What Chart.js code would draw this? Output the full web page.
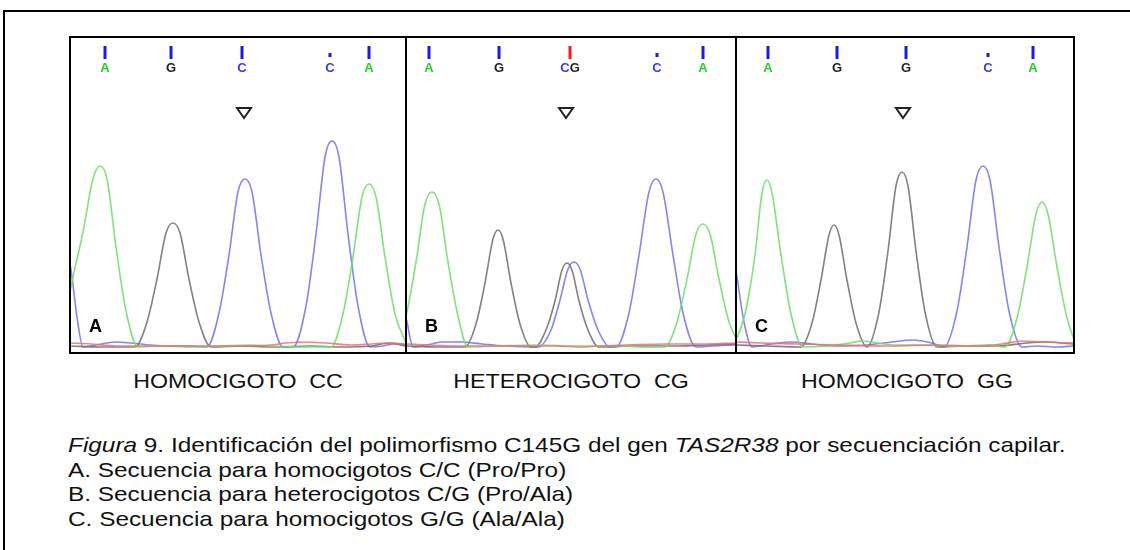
<!DOCTYPE html>
<html lang="es">
<head>
<meta charset="UTF-8">
<title>Figura 9 - TAS2R38 C145G</title>
<script src="https://cdn.jsdelivr.net/npm/chart.js"></script>
<style>
    body {
        margin: 0;
        width: 1130px;
        height: 550px;
        background: #fff;
        font-family: "Liberation Sans", Arial, sans-serif;
        position: relative;
        overflow: hidden;
    }
    .frame {
        position: absolute;
        left: 3px;
        top: 10px;
        width: 1200px;
        height: 600px;
        border-left: 2px solid #000;
        border-top: 2px solid #000;
    }
    .panel {
        position: absolute;
        top: 36px;
        height: 314px;
        border: 2px solid #000;
    }
    .panel canvas { display: block; }
    .genotype {
        position: absolute;
        top: 370px;
        font-size: 20px;
        white-space: pre;
        transform: translateX(-50%) scaleX(1.16);
        color: #111;
    }
    .caption {
        position: absolute;
        left: 68px;
        font-size: 21px;
        white-space: pre;
        color: #111;
        transform-origin: left center;
        transform: scaleX(1.16);
    }
</style>
</head>
<body>
<div class="frame"></div>

<div class="panel" id="boxA" style="left:69px;width:334px"><canvas id="chartA" width="334" height="314"></canvas></div>
<div class="panel" id="boxB" style="left:405px;width:328px"><canvas id="chartB" width="328" height="314"></canvas></div>
<div class="panel" id="boxC" style="left:735px;width:336px"><canvas id="chartC" width="336" height="314"></canvas></div>

<div class="genotype" style="left:238px">HOMOCIGOTO  CC</div>
<div class="genotype" style="left:571px">HETEROCIGOTO  CG</div>
<div class="genotype" style="left:907px">HOMOCIGOTO  GG</div>

<div class="caption" style="top:433px"><i>Figura</i> 9. Identificación del polimorfismo C145G del gen <i>TAS2R38</i> por secuenciación capilar.</div>
<div class="caption" style="top:458px">A. Secuencia para homocigotos C/C (Pro/Pro)</div>
<div class="caption" style="top:482px">B. Secuencia para heterocigotos C/G (Pro/Ala)</div>
<div class="caption" style="top:507px">C. Secuencia para homocigotos G/G (Ala/Ala)</div>

<script>
// scan position / signal (scan 0 = left edge of each panel)

// panel A - homocigoto CC
const greenA = [[-12,0],[2,70],[12,115],[22,168],[29,181],[36,168],[45,100],[55,36],[67,0],[90,1],[120,0],[150,1],[180,2],[200,1],[230,0],[260,0],[272,33],[282,90],[291,150],[298,163],[305,150],[314,90],[324,33],[336,2]];
const grayA = [[0,1],[30,0],[64,0],[76,25],[86,68],[95,114],[102,124],[109,114],[118,68],[128,25],[140,0],[170,1],[200,0],[240,1],[270,0],[300,1],[319,4],[334,2]];
const blueA = [[-10,120],[0,77],[6,30],[12,0],[25,2],[45,5],[60,4],[80,2],[100,1],[120,1],[136,0],[148,34],[158,92],[167,155],[174,168],[181,155],[190,92],[200,34],[212,0],[222,0],[235,41],[245,113],[254,190],[261,206],[268,190],[277,113],[287,41],[299,0],[312,1],[323,3],[334,1]];
const redA = [[0,4],[20,3],[45,1],[80,1],[130,1],[170,1],[200,2],[215,4],[235,5],[255,4],[280,2],[300,3],[315,4],[334,3]];

// panel B - heterocigoto CG
const greenB = [[-13,0],[-1,31],[9,85],[18,143],[25,155],[32,143],[41,85],[51,31],[61,0],[90,1],[130,2],[170,1],[210,1],[240,0],[258,0],[270,25],[280,68],[289,113],[296,123],[303,113],[312,68],[322,25],[334,0]];
const grayB = [[0,1],[30,0],[58,0],[69,23],[78,64],[86,108],[91,117],[96,108],[104,64],[113,23],[124,0],[128,0],[139,17],[148,46],[155,77],[160,84],[165,77],[172,46],[181,17],[192,0],[230,1],[270,1],[300,2],[328,3]];
const blueB = [[-8,60],[0,25],[6,0],[20,2],[35,5],[55,5],[75,3],[100,1],[131,0],[144,17],[153,47],[161,78],[167,85],[173,78],[181,47],[191,17],[203,0],[209,0],[222,34],[232,92],[242,155],[249,168],[256,155],[266,92],[276,34],[289,0],[305,1],[328,2]];
const redB = [[0,3],[20,2],[50,1],[90,1],[120,1],[150,1],[175,0],[190,1],[220,2],[260,3],[300,3],[328,4]];

// panel C - homocigoto GG
const greenC = [[-4,0],[8,33],[18,92],[25,154],[30,167],[35,154],[44,92],[54,33],[66,0],[90,1],[113,4],[125,6],[140,4],[160,2],[190,2],[220,1],[250,2],[268,0],[280,29],[290,80],[299,133],[305,145],[311,133],[320,80],[330,29],[340,0]];
const grayC = [[0,2],[30,1],[64,0],[75,24],[84,67],[92,112],[97,122],[102,112],[110,67],[119,24],[130,0],[142,35],[151,96],[159,161],[165,175],[171,161],[179,96],[188,35],[200,0],[230,1],[260,1],[290,4],[310,5],[336,3]];
const blueC = [[-10,130],[0,70],[7,25],[15,0],[35,3],[55,5],[75,3],[100,1],[130,2],[155,5],[175,7],[195,4],[207,0],[220,36],[230,100],[239,167],[246,181],[253,167],[262,100],[272,36],[285,0],[300,1],[320,0],[336,1]];
const redC = [[0,5],[25,4],[60,3],[100,2],[150,1],[200,2],[240,1],[265,3],[285,6],[305,5],[336,4]];

// base calls above each panel
const callPosA = [34, 100, 171, 259, 298];
const callPosB = [22, 92, 163, 250, 296];
const callPosC = [31, 100, 169, 251, 296];
const callsA = ['A', 'G', 'C', 'C', 'A'];
const callsB = ['A', 'G', 'CG', 'C', 'A'];
const callsC = ['A', 'G', 'G', 'C', 'A'];
const qualA = ['bar', 'bar', 'bar', 'dot', 'bar'];
const qualB = ['bar', 'bar', 'mixed', 'dot', 'bar'];
const qualC = ['bar', 'bar', 'bar', 'dot', 'bar'];
const snpPos = { A: 173, B: 159, C: 166 };

const baseColor = { A: '#22d322', G: '#222222', C: '#3a3ae8' };

const callsPlugin = {
    id: 'calls',
    afterDatasetsDraw(chart, args, opts) {
        const ctx = chart.ctx;
        const x = chart.scales.x;
        ctx.save();
        opts.pos.forEach((p, i) => {
            const px = Math.round(x.getPixelForValue(p));
            // quality mark
            if (opts.qual[i] === 'dot') {
                ctx.fillStyle = '#1a1ae0';
                ctx.fillRect(px - 1.5, 15, 3, 4);
            } else {
                ctx.fillStyle = opts.qual[i] === 'mixed' ? '#ff1a1a' : '#1a1ae0';
                ctx.fillRect(px - 1.5, 8, 3, 13);
            }
            // base letter(s)
            ctx.font = 'bold 13px "Liberation Sans", Arial, sans-serif';
            ctx.textBaseline = 'middle';
            const txt = opts.calls[i];
            const w = ctx.measureText(txt).width;
            let cx = px - w / 2;
            for (const ch of txt) {
                ctx.fillStyle = baseColor[ch];
                ctx.textAlign = 'left';
                ctx.fillText(ch, cx, 30);
                cx += ctx.measureText(ch).width;
            }
        });
        // arrow at the SNP
        const tx = x.getPixelForValue(opts.snp);
        ctx.strokeStyle = '#222';
        ctx.lineWidth = 2;
        ctx.beginPath();
        ctx.moveTo(tx - 7, 70);
        ctx.lineTo(tx + 7, 70);
        ctx.lineTo(tx, 80);
        ctx.closePath();
        ctx.stroke();
        // panel letter
        ctx.fillStyle = '#000';
        ctx.font = 'bold 18px "Liberation Sans", Arial, sans-serif';
        ctx.textAlign = 'left';
        ctx.textBaseline = 'middle';
        ctx.fillText(opts.tag, 18, 289);
        ctx.restore();
    }
};

function trace(points, color) {
    return {
        data: points.map(p => ({ x: p[0], y: p[1] })),
        borderColor: color,
        borderWidth: 1.6,
        pointRadius: 0,
        fill: false,
        cubicInterpolationMode: 'monotone'
    };
}

function makePanel(id, width, tag, traces, pos, calls, qual, snp) {
    return new Chart(document.getElementById(id), {
        type: 'line',
        data: {
            datasets: [
                trace(traces.red, 'rgba(240,110,110,0.85)'),
                trace(traces.green, 'rgba(110,225,110,0.9)'),
                trace(traces.gray, 'rgba(115,115,115,0.9)'),
                trace(traces.blue, 'rgba(120,120,240,0.9)')
            ]
        },
        options: {
            responsive: false,
            animation: false,
            devicePixelRatio: 1,
            layout: { padding: 0 },
            scales: {
                x: { type: 'linear', min: 0, max: width, display: false },
                y: { min: -5, max: 309, display: false }
            },
            plugins: {
                legend: { display: false },
                tooltip: { enabled: false },
                calls: { pos: pos, calls: calls, qual: qual, snp: snp, tag: tag }
            }
        },
        plugins: [callsPlugin]
    });
}

makePanel('chartA', 334, 'A', { green: greenA, gray: grayA, blue: blueA, red: redA }, callPosA, callsA, qualA, snpPos.A);
makePanel('chartB', 328, 'B', { green: greenB, gray: grayB, blue: blueB, red: redB }, callPosB, callsB, qualB, snpPos.B);
makePanel('chartC', 336, 'C', { green: greenC, gray: grayC, blue: blueC, red: redC }, callPosC, callsC, qualC, snpPos.C);
</script>
</body>
</html>
